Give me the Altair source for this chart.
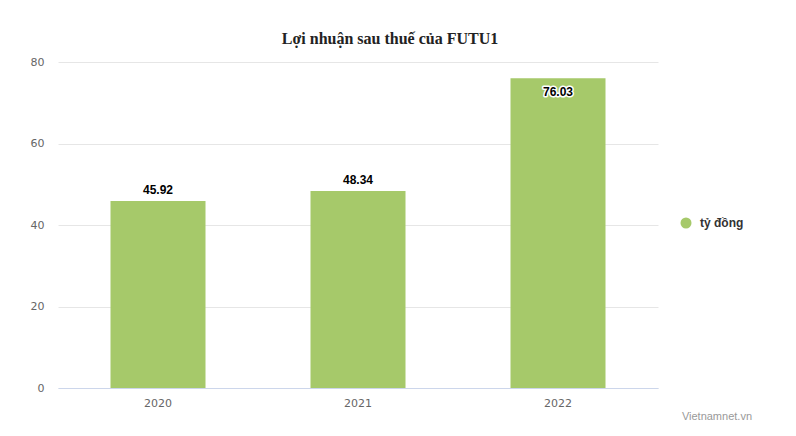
import altair as alt
import pandas as pd

years = ["2020", "2021", "2022"]
values = [45.92, 48.34, 76.03]
series = "tỷ đồng"
y_ticks = [0, 20, 40, 60, 80]
title_text = "Lợi nhuận sau thuế của FUTU1"
credit = "Vietnamnet.vn"

GREEN = "#a6c96a"

df = pd.DataFrame({"year": years, "value": values, "series": [series] * len(years)})

x_enc = alt.X("year:N", sort=years, title=None,
              scale=alt.Scale(paddingInner=0.525, paddingOuter=0.2625),
              axis=alt.Axis(labelAngle=0, ticks=False, domain=True, domainColor="#ccd6eb",
                            labelFont="DejaVu Sans", labelFontSize=11, labelColor="#666666",
                            labelPadding=9, grid=False))
y_enc = alt.Y("value:Q", title=None,
              scale=alt.Scale(domain=[0, 80], nice=False),
              axis=alt.Axis(values=y_ticks, ticks=False, domain=False, gridColor="#e6e6e6",
                            labelFont="DejaVu Sans", labelFontSize=11, labelColor="#666666",
                            labelPadding=14, labelBaseline="middle"))

base = alt.Chart(df)

bars = base.mark_bar(size=95).encode(
    x=x_enc,
    y=y_enc,
    color=alt.Color("series:N", title=None,
                    scale=alt.Scale(range=[GREEN]),
                    legend=alt.Legend(orient="none", legendX=622, legendY=155,
                                      symbolType="circle", symbolSize=121,
                                      symbolStrokeWidth=0, labelFont="Liberation Sans",
                                      labelFontSize=12, labelFontWeight="bold",
                                      labelColor="#333333", labelOffset=8, padding=0)),
)

def labels(filt, dy):
    common = dict(font="Liberation Sans", fontSize=12, fontWeight="bold",
                  baseline="middle", dy=dy)
    halo = base.transform_filter(filt).mark_text(
        color="white", stroke="white", strokeWidth=3, strokeJoin="round", **common
    ).encode(x=alt.X("year:N", sort=years), y="value:Q", text=alt.Text("value:Q", format=".2f"))
    txt = base.transform_filter(filt).mark_text(color="#000000", **common).encode(
        x=alt.X("year:N", sort=years), y="value:Q", text=alt.Text("value:Q", format=".2f"))
    return halo + txt

above = labels("datum.value <= 70", -11)
inside = labels("datum.value > 70", 14)

credit_layer = alt.Chart(pd.DataFrame({"t": [credit]})).mark_text(
    align="right", baseline="middle", font="Liberation Sans", fontSize=11, color="#999999"
).encode(x=alt.value(694), y=alt.value(355), text="t:N")

chart = alt.layer(bars, above, inside, credit_layer).properties(
    width=600, height=326,
    background="white",
    title=alt.TitleParams(title_text, font="Liberation Serif", fontSize=16, fontWeight="bold",
                          color="#222222", anchor="middle", dx=32, offset=9),
    autosize=alt.AutoSizeParams(type="none"),
    padding={"left": 50, "top": 54, "right": 130, "bottom": 40},
).configure_view(stroke=None)

chart.save("out.html", embed_options={"renderer": "svg", "actions": False})
